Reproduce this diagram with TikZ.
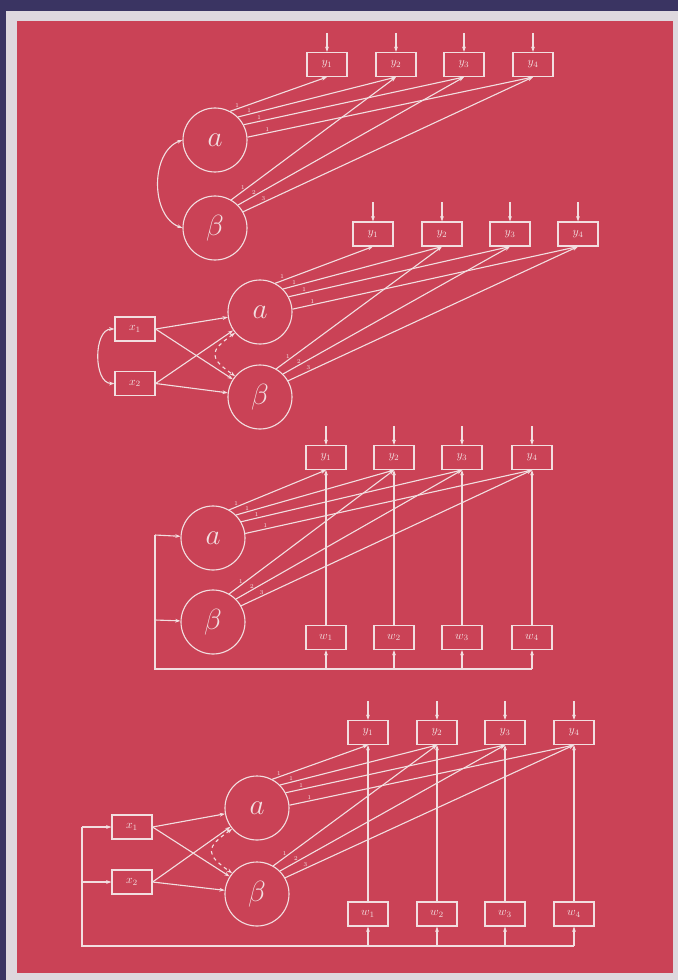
\documentclass[tikz,border=0pt]{standalone}
\usepackage{amsmath}
\usepackage{amssymb}
\usetikzlibrary{arrows.meta,positioning}
\definecolor{bgred}{RGB}{202,66,86}
\definecolor{chalk}{RGB}{242,222,224}
\definecolor{navy}{RGB}{58,52,98}
\definecolor{paper}{RGB}{222,216,222}
\tikzset{
  obs/.style={draw=chalk, rectangle, minimum width=1.2cm, minimum height=0.72cm,
    inner sep=0pt, text=chalk, font=\fontsize{10}{11}\selectfont},
  lat/.style={draw=chalk, circle, minimum size=1.92cm, inner sep=0pt,
    text=chalk, font=\fontsize{27}{30}\selectfont},
  arr/.style={-{Stealth[length=4.5pt,width=3.2pt]}},
  cov/.style={{Stealth[length=4.5pt,width=3.2pt]}-{Stealth[length=4.5pt,width=3.2pt]}},
  wt/.style={above=0.5pt, inner sep=0.5pt, text=chalk, font=\fontsize{5}{6}\selectfont},
}
\begin{document}
\begin{tikzpicture}[x=0.03cm,y=0.03cm,line width=0.95pt,color=chalk]
  \useasboundingbox (0,0) rectangle (678,-980);
  \fill[navy] (0,0) rectangle (678,-980);
  \fill[paper] (6,-11) rectangle (678,-980);
  \fill[bgred] (17,-21) rectangle (673,-973);

  % model 1
  \foreach \i/\px in {1/327,2/396,3/464,4/533}{
    \node[obs] (Ay\i) at (\px,-64.5) {$y_{\i}$};
    \coordinate[above=5.7mm of Ay\i] (Ae\i);
    \draw[arr] (Ae\i) -- (Ay\i);
  }
  \node[lat] (Aa) at (215,-140) {$a$};
  \node[lat] (Ab) at (215,-228) {$\beta$};
  \draw[cov] (Aa.west) to[out=200,in=160] (Ab.west);
  \foreach \i/\ang in {1/62,2/45,3/28,4/5}
    \draw[arr] (Aa.\ang) -- node[wt,pos=0.07]{1} (Ay\i.south);
  \foreach \i/\ang/\t in {2/60/1,3/45/2,4/30/3}
    \draw[arr] (Ab.\ang) -- node[wt,pos=0.07]{\t} (Ay\i.south);

  % model 2
  \foreach \i/\px in {1/373,2/442,3/510,4/578}{
    \node[obs] (By\i) at (\px,-234) {$y_{\i}$};
    \coordinate[above=5.7mm of By\i] (Be\i);
    \draw[arr] (Be\i) -- (By\i);
  }
  \node[lat] (Ba) at (260,-312) {$a$};
  \node[lat] (Bb) at (260,-397) {$\beta$};
  \node[obs] (Bx1) at (135,-329) {$x_1$};
  \node[obs] (Bx2) at (135,-383.5) {$x_2$};
  \draw[cov] (Bx1.west) to[out=180,in=180] (Bx2.west);
  \draw[cov,dashed] (Ba.220) to[out=215,in=145,looseness=1.9] (Bb.140);
  \foreach \s in {Bx1,Bx2}{
    \draw[arr] (\s.east) -- (Ba);
    \draw[arr] (\s.east) -- (Bb);
  }
  \foreach \i/\ang in {1/62,2/45,3/28,4/5}
    \draw[arr] (Ba.\ang) -- node[wt,pos=0.07]{1} (By\i.south);
  \foreach \i/\ang/\t in {2/60/1,3/45/2,4/30/3}
    \draw[arr] (Bb.\ang) -- node[wt,pos=0.07]{\t} (By\i.south);

  % model 3
  \foreach \i/\px in {1/326,2/394,3/462,4/532}{
    \node[obs] (Cy\i) at (\px,-457.5) {$y_{\i}$};
    \node[obs] (Cw\i) at (\px,-637.5) {$w_{\i}$};
    \coordinate[above=5.7mm of Cy\i] (Ce\i);
    \draw[arr] (Ce\i) -- (Cy\i);
  }
  \node[lat] (Ca) at (213,-538) {$a$};
  \node[lat] (Cb) at (213,-622) {$\beta$};
  \foreach \i/\ang in {1/60,2/45,3/30,4/8}
    \draw[arr] (Ca.\ang) -- node[wt,pos=0.07]{1} (Cy\i.south);
  \foreach \i/\ang/\t in {2/60/1,3/45/2,4/30/3}
    \draw[arr] (Cb.\ang) -- node[wt,pos=0.07]{\t} (Cy\i.south);
  \coordinate (Cc1) at (155,-535);
  \coordinate (Cc2) at (155,-620);
  \coordinate (Cc3) at (155,-669);
  \draw (Cc1) -- (Cc3) -- (Cw4.south |- Cc3);
  \draw[arr] (Cc1) -- (Ca);
  \draw[arr] (Cc2) -- (Cb);
  \foreach \i in {1,...,4}{
    \draw[arr] (Cw\i.south |- Cc3) -- (Cw\i.south);
    \draw[arr] (Cw\i) -- (Cy\i);
  }

  % model 4
  \foreach \i/\px in {1/368,2/437,3/505,4/574}{
    \node[obs] (Dy\i) at (\px,-732.5) {$y_{\i}$};
    \node[obs] (Dw\i) at (\px,-914) {$w_{\i}$};
    \coordinate[above=5.7mm of Dy\i] (De\i);
    \draw[arr] (De\i) -- (Dy\i);
  }
  \node[lat] (Da) at (257,-808) {$a$};
  \node[lat] (Db) at (257,-894) {$\beta$};
  \node[obs] (Dx1) at (132,-827) {$x_1$};
  \node[obs] (Dx2) at (132,-882) {$x_2$};
  \draw[cov,dashed] (Da.220) to[out=215,in=145,looseness=1.9] (Db.140);
  \foreach \s in {Dx1,Dx2}{
    \draw[arr] (\s.east) -- (Da);
    \draw[arr] (\s.east) -- (Db);
  }
  \foreach \i/\ang in {1/62,2/45,3/28,4/5}
    \draw[arr] (Da.\ang) -- node[wt,pos=0.07]{1} (Dy\i.south);
  \foreach \i/\ang/\t in {2/60/1,3/45/2,4/30/3}
    \draw[arr] (Db.\ang) -- node[wt,pos=0.07]{\t} (Dy\i.south);
  \coordinate (Dc1) at (82,-827);
  \coordinate (Dc2) at (82,-882);
  \coordinate (Dc3) at (82,-946);
  \draw (Dc1) -- (Dc3) -- (Dw4.south |- Dc3);
  \draw[arr] (Dc1) -- (Dx1);
  \draw[arr] (Dc2) -- (Dx2);
  \foreach \i in {1,...,4}{
    \draw[arr] (Dw\i.south |- Dc3) -- (Dw\i.south);
    \draw[arr] (Dw\i) -- (Dy\i);
  }
\end{tikzpicture}
\end{document}
